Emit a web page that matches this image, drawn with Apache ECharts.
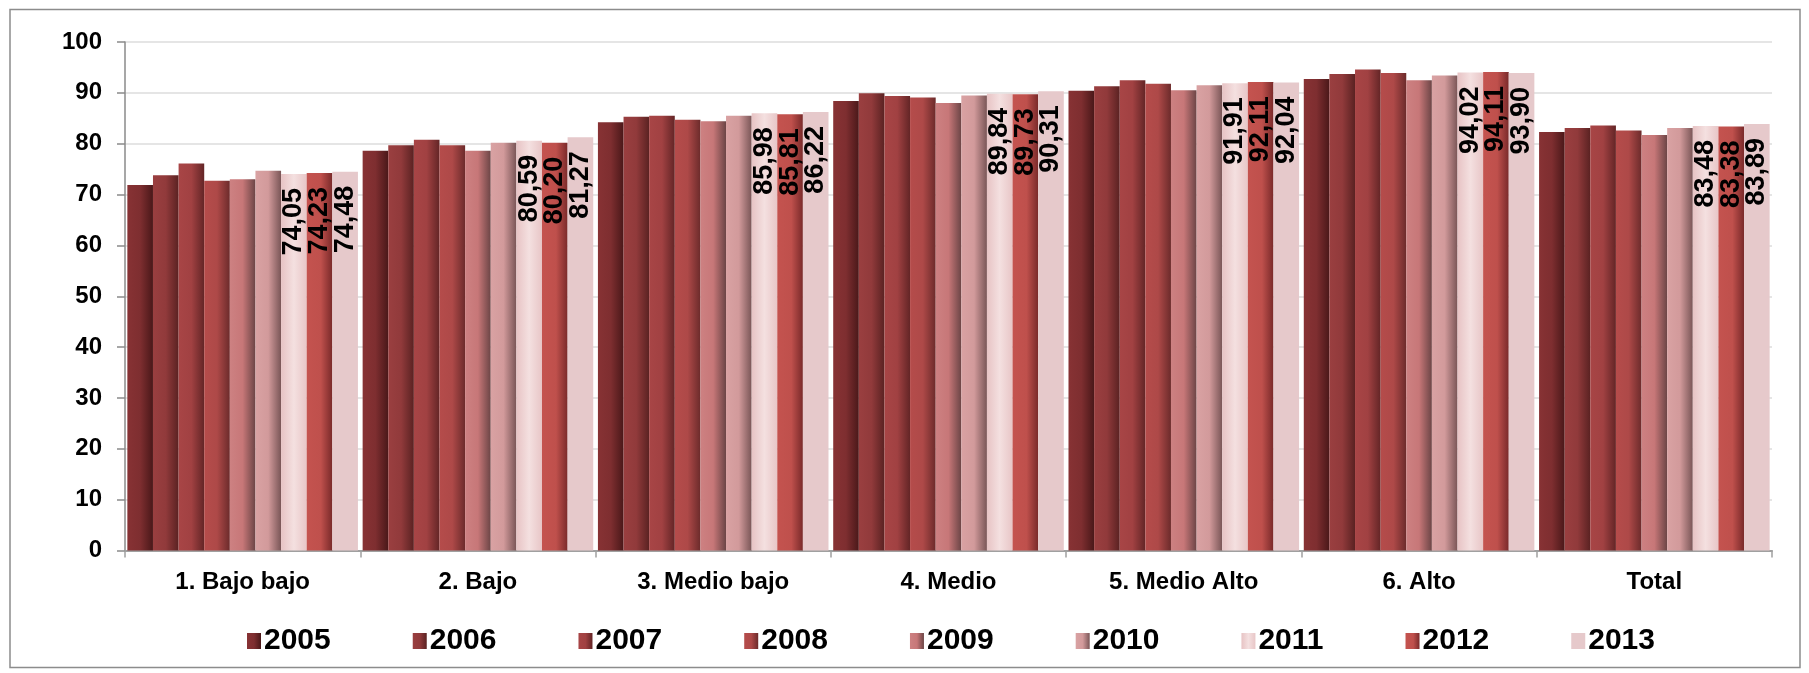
<!DOCTYPE html>
<html>
<head>
<meta charset="utf-8">
<script src="https://cdn.jsdelivr.net/npm/echarts@6/dist/echarts.min.js"></script>
<style>
html,body{margin:0;padding:0;background:#fff;}
#chart{width:1809px;height:673px;}
</style>
</head>
<body>
<div id="chart"></div>
<script>
const categories = ['1. Bajo bajo', '2. Bajo', '3. Medio bajo', '4. Medio', '5. Medio Alto', '6. Alto', 'Total'];
const years = ['2005', '2006', '2007', '2008', '2009', '2010', '2011', '2012', '2013'];
const v2005 = [71.9, 78.6, 84.2, 88.4, 90.4, 92.7, 82.3];
const v2006 = [73.8, 79.7, 85.3, 89.9, 91.3, 93.7, 83.1];
const v2007 = [76.1, 80.8, 85.5, 89.4, 92.5, 94.6, 83.6];
const v2008 = [72.7, 79.7, 84.7, 89.1, 91.8, 93.9, 82.6];
const v2009 = [73.0, 78.6, 84.4, 88.0, 90.5, 92.5, 81.7];
const v2010 = [74.7, 80.2, 85.5, 89.5, 91.5, 93.4, 83.1];
const v2011 = [74.05, 80.59, 85.98, 89.84, 91.91, 94.02, 83.48];
const v2012 = [74.23, 80.20, 85.81, 89.73, 92.11, 94.11, 83.38];
const v2013 = [74.48, 81.27, 86.22, 90.31, 92.04, 93.90, 83.89];
const yTicks = [0, 10, 20, 30, 40, 50, 60, 70, 80, 90, 100];

const seriesValues = [v2005, v2006, v2007, v2008, v2009, v2010, v2011, v2012, v2013];
const labeled = [false, false, false, false, false, false, true, true, true];

function grad(stops) {
  return new echarts.graphic.LinearGradient(0, 0, 1, 0,
    stops.map(s => ({offset: s[0], color: s[1]})));
}
const colors = [
  grad([[0, '#873234'], [0.5, '#7e2e30'], [1, '#4a1819']]),
  grad([[0, '#9a3f40'], [0.5, '#913a3b'], [1, '#5a2222']]),
  grad([[0, '#a84546'], [0.5, '#a14142'], [1, '#632526']]),
  grad([[0, '#b54c4b'], [0.5, '#ae4948'], [1, '#6c2b2b']]),
  grad([[0, '#cd8182'], [0.5, '#c77778'], [1, '#6c4546']]),
  grad([[0, '#d9a2a3'], [0.5, '#d29a9b'], [1, '#7a5657']]),
  grad([[0, '#e7c3c4'], [0.5, '#f4e0e0'], [1, '#e8c6c7']]),
  grad([[0, '#c4534f'], [0.55, '#bf504c'], [1, '#7a2a2a']]),
  '#e6c9cb'
];

const sans = "'Liberation Sans', Arial, sans-serif";

const series = years.map((y, i) => ({
  name: y,
  type: 'bar',
  data: seriesValues[i],
  barGap: '0%',
  barCategoryGap: '2%',
  itemStyle: {color: colors[i]},
  label: labeled[i] ? {
    show: true,
    position: 'insideTop',
    rotate: 90,
    align: 'right',
    verticalAlign: 'middle',
    distance: 14,
    color: '#000',
    fontFamily: sans,
    fontWeight: 'bold',
    fontSize: 27,
    formatter: p => p.value.toFixed(2).replace('.', ',')
  } : {show: false}
}));

const chart = echarts.init(document.getElementById('chart'), null, {renderer: 'canvas'});
chart.setOption({
  animation: false,
  backgroundColor: '#fff',
  grid: {left: 125, right: 37, top: 42, bottom: 122.5, containLabel: false},
  graphic: [{
    type: 'rect',
    shape: {x: 10, y: 9.5, width: 1790, height: 658},
    style: {fill: 'none', stroke: '#8c8c8c', lineWidth: 1.5},
    silent: true
  }],
  legend: {
    data: years,
    left: 242,
    top: 621,
    itemWidth: 14,
    itemHeight: 16,
    itemGap: 82,
    icon: 'rect',
    textStyle: {fontFamily: sans, fontWeight: 'bold', fontSize: 30, color: '#000', padding: [0, 0, 0, -2]}
  },
  xAxis: {
    type: 'category',
    data: categories,
    axisLine: {lineStyle: {color: '#a0a0a0', width: 2}},
    axisTick: {show: true, length: 7, lineStyle: {color: '#a0a0a0', width: 1.5}},
    axisLabel: {fontFamily: sans, fontWeight: 'bold', fontSize: 24, color: '#000', margin: 20}
  },
  yAxis: {
    type: 'value',
    min: yTicks[0],
    max: yTicks[yTicks.length - 1],
    interval: 10,
    axisLine: {show: true, lineStyle: {color: '#8a8a8a', width: 1.5}},
    axisTick: {show: true, length: 8, lineStyle: {color: '#8a8a8a', width: 1.5}},
    splitLine: {lineStyle: {color: '#dcdcdc', width: 1.5}},
    axisLabel: {fontFamily: sans, fontWeight: 'bold', fontSize: 24, color: '#000', margin: 23}
  },
  series: series
});
</script>
</body>
</html>
